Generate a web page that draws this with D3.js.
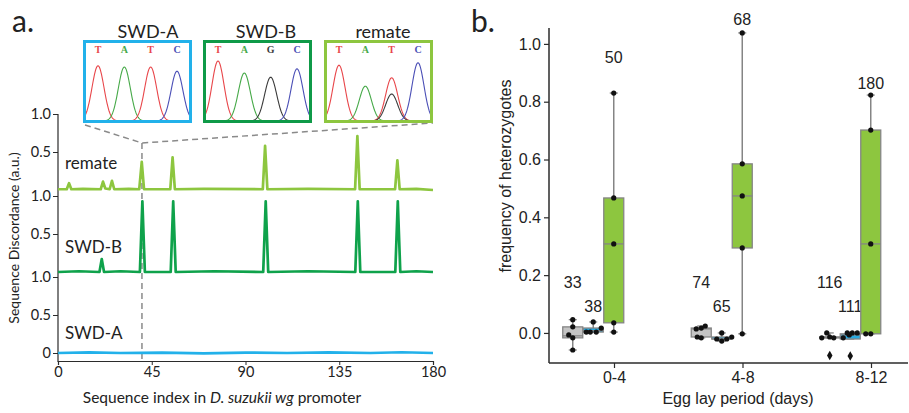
<!DOCTYPE html>
<html>
<head>
<meta charset="utf-8">
<script src="https://cdn.jsdelivr.net/npm/d3@7"></script>
<style>
  body { margin: 0; background: #fff; }
  svg { display: block; }
</style>
</head>
<body>
<svg id="chart" width="909" height="413"></svg>
<script>
// -------------------------------
// Panel a data: discordance traces ([sequence index, value])
// -------------------------------
const traceNames = ["remate", "SWD-B", "SWD-A"];
const traceColors = ["#8dc63f", "#0fa24b", "#22b1ea"];

const remateTrace = [
  [0, 0.01], [4.2, 0.01], [5.3, 0.09], [6.4, 0.01], [12, 0.015], [20.5, 0.01], [21.6, 0.11],
  [22.7, 0.02], [24.8, 0.01], [25.9, 0.12], [27, 0.01], [34, 0.015], [39, 0.01], [40.2, 0.37],
  [41.3, 0.01], [53.9, 0.01], [55.0, 0.43], [56.1, 0.01], [70, 0.015], [98.3, 0.01],
  [99.4, 0.58], [100.5, 0.01], [120, 0.015], [142.6, 0.01], [143.7, 0.71], [144.8, 0.01],
  [161.8, 0.01], [162.9, 0.39], [164, 0.01], [172, 0.015], [180, 0.0]
];
const swdBTrace = [
  [0, 0.0], [10, 0.01], [19.9, 0.0], [21.0, 0.17], [22.1, 0.0], [30, 0.01], [39.3, 0.0],
  [40.5, 0.93], [41.7, 0.0], [54.1, 0.0], [55.3, 0.93], [56.5, 0.0], [75, 0.01], [98.5, 0.0],
  [99.7, 0.93], [100.9, 0.0], [120, 0.01], [142.7, 0.0], [143.9, 0.93], [145.1, 0.0],
  [161.9, 0.0], [163.1, 0.93], [164.3, 0.0], [172, 0.01], [180, 0.0]
];
const swdATrace = [
  [0, 0.0], [15, 0.008], [30, 0.0], [50, 0.006], [70, -0.004], [90, 0.006], [110, 0.0],
  [130, 0.007], [150, 0.0], [165, 0.01], [180, 0.0]
];
const seqTicks = [0, 45, 90, 135, 180];
const discordTicks = [[0.5, 1.0], [0.5, 1.0], [0, 0.5, 1.0]];

// chromatogram insets: [base letter, slot, relative height]
const insetNames = ["SWD-A", "SWD-B", "remate"];
const insetColors = ["#22b1ea", "#0f9a48", "#8dc63f"];
const insetLetters = [["T", "A", "T", "C"], ["T", "A", "G", "C"], ["T", "A", "T", "C"]];
const insetPeaks = [
  [["T", 0, 0.92], ["A", 1, 0.9], ["T", 2, 0.9], ["C", 3, 0.83]],
  [["T", 0, 1.0], ["A", 1, 0.8], ["G", 2, 0.73], ["C", 3, 0.87]],
  [["T", 0, 0.93], ["A", 1, 0.58], ["T", 2, 0.72], ["G", 2, 0.45], ["C", 3, 0.97]]
];
const baseColors = { T: "#e8464a", A: "#46a948", G: "#3a3a3a", C: "#4b4fb6" };

// -------------------------------
// Panel b data: frequency of heterozygotes
// -------------------------------
const periods = ["0-4", "4-8", "8-12"];
const seriesNames = ["grey", "blue", "green"];
const seriesFill = ["#c4c4c4", "#27aae1", "#8dc63f"];

// [q1, median, q3, whisker low, whisker high] per period
const greyBoxes = [[-0.017, -0.01, 0.021, -0.059, 0.046], [-0.014, 0.014, 0.017, -0.017, 0.024], [-0.017, -0.015, -0.014, -0.017, 0.0]];
const blueBoxes = [[0.003, 0.008, 0.017, 0.003, 0.038], [-0.021, -0.021, -0.014, -0.028, 0.0], [-0.021, -0.007, -0.003, -0.021, 0.0]];
const greenBoxes = [[0.035, 0.308, 0.467, 0.003, 0.83], [0.294, 0.474, 0.585, -0.003, 1.038], [-0.003, 0.308, 0.702, -0.003, 0.823]];

const greyPoints = [[0.046, 0.021, -0.007, -0.017, -0.059], [0.014, 0.017, 0.024, -0.014, -0.017], [0.0, -0.017, -0.014, -0.017]];
const bluePoints = [[0.038, 0.003, 0.003, 0.003, 0.017], [0.0, -0.021, -0.028, -0.021, -0.014], [-0.017, 0.0, 0.0, 0.0, -0.007]];
const greenPoints = [[0.83, 0.467, 0.308, 0.035, 0.003], [1.038, 0.585, 0.474, 0.294, -0.003], [0.823, 0.702, 0.308, -0.003, -0.003]];
// horizontal jitter of the points, px
const greyJitter = [[0, 0, -4, 0, 0], [-5, 0, 4, -4, 0], [-3, -8, 0, 4]];
const blueJitter = [[0, -7, -3, 3, 8], [0, -5, 0, 5, 10], [-7, -3, 2, 7, -1]];
const greenJitter = [[0, 0, 0, 0, 0], [0, 0, 0, 0, 0], [0, 0, 0, -5, 0]];
// outliers (diamonds): [period index, series index, value]
const outliers = [[2, 0, -0.078], [2, 1, -0.08]];

// sample sizes and the height of their labels
const counts = [[33, 38, 50], [74, 65, 68], [116, 111, 180]];
const countY = [[0.156, 0.073, 0.934], [0.156, 0.073, 1.066], [0.156, 0.073, 0.844]];
const freqTicks = [0, 0.2, 0.4, 0.6, 0.8, 1.0];

// -------------------------------
// Setup
// -------------------------------
const svg = d3.select("#chart");
const fontA = "Lato, 'Open Sans', sans-serif";
const fontB = "'Liberation Sans', Arial, sans-serif";
const axisColor = "#2b2b2b";

// ---------- Panel a ----------
const xA = d3.scaleLinear().domain([0, 180]).range([58, 433]);
const panelRanges = [[190, 114], [272, 196], [353, 277]];
const yA = panelRanges.map((r) => d3.scaleLinear().domain([0, 1]).range(r));
const traces = [remateTrace, swdBTrace, swdATrace];

svg.append("text").attr("x", 12).attr("y", 32)
  .attr("font-family", fontA).attr("font-size", 30).attr("fill", "#222").text("a.");

// y axes (one per stacked trace)
yA.forEach((y, i) => {
  const g = svg.append("g").attr("transform", "translate(58,0)")
    .call(d3.axisLeft(y).tickValues(discordTicks[i]).tickSize(5).tickPadding(2)
      .tickFormat((d) => (d === 0 ? "0" : d3.format(".1f")(d))));
  g.select(".domain").remove();
  g.selectAll(".tick line").attr("stroke", axisColor);
  g.selectAll(".tick text").attr("font-family", fontA).attr("font-size", 14.5).attr("fill", "#222");
});
svg.append("line").attr("x1", 58).attr("x2", 58).attr("y1", 114).attr("y2", 362)
  .attr("stroke", axisColor).attr("stroke-width", 1.2);

// x axis
const gxA = svg.append("g").attr("transform", "translate(0,361)")
  .call(d3.axisBottom(xA).tickValues(seqTicks).tickSize(4).tickPadding(2));
gxA.select(".domain").attr("stroke", axisColor).attr("stroke-width", 1.2);
gxA.selectAll(".tick line").attr("stroke", axisColor);
gxA.selectAll(".tick text").attr("font-family", fontA).attr("font-size", 14.5).attr("fill", "#222");

const xLab = svg.append("text").attr("x", 222).attr("y", 403).attr("text-anchor", "middle")
  .attr("font-family", fontA).attr("font-size", 15.5).attr("fill", "#222");
xLab.append("tspan").text("Sequence index in ");
xLab.append("tspan").attr("font-style", "italic").text("D. suzukii wg");
xLab.append("tspan").text(" promoter");

svg.append("text").attr("transform", "translate(19,238) rotate(-90)").attr("text-anchor", "middle")
  .attr("font-family", fontA).attr("font-size", 14).attr("fill", "#222")
  .text("Sequence Discordance (a.u.)");

// dashed guide lines
const guideX = xA(40.3);
svg.append("path")
  .attr("d", `M85,125 L${guideX},143 L433,123 M${guideX},143 L${guideX},361`)
  .attr("fill", "none").attr("stroke", "#8a8a8a").attr("stroke-width", 1.5)
  .attr("stroke-dasharray", "6,4");

// traces
traces.forEach((data, i) => {
  const line = d3.line().x((d) => xA(d[0])).y((d) => yA[i](d[1]));
  svg.append("path").datum(data).attr("d", line)
    .attr("fill", "none").attr("stroke", traceColors[i]).attr("stroke-width", 2.7)
    .attr("stroke-linejoin", "round");
});

// trace names
const nameY = [169, 253, 339];
traceNames.forEach((n, i) => {
  svg.append("text").attr("x", 65).attr("y", nameY[i])
    .attr("font-family", fontA).attr("font-size", 17).attr("fill", "#222").text(n);
});

// chromatogram insets
const insetX = [83, 203, 324];
const titleX = [148, 266, 383];
const insetW = 109, insetTop = 40, insetH = 83;
const peakY = d3.scaleLinear().domain([0, 1]).range([121, 61]);
insetNames.forEach((name, k) => {
  const x0 = insetX[k];
  const slotX = d3.scaleLinear().domain([0, 3]).range([x0 + 15, x0 + 94]);
  svg.append("text").attr("x", titleX[k]).attr("y", 38).attr("text-anchor", "middle")
    .attr("font-family", fontA).attr("font-size", 18).attr("fill", "#222").text(name);

  svg.append("clipPath").attr("id", "clip" + k).append("rect")
    .attr("x", x0 + 1).attr("y", insetTop).attr("width", insetW - 2).attr("height", insetH - 1);
  const g = svg.append("g").attr("clip-path", `url(#clip${k})`);
  insetPeaks[k].forEach(([b, slot, h]) => {
    const c = slotX(slot);
    const pts = d3.range(-24, 24.5, 0.5).map((dx) => [c + dx, peakY(h * Math.exp(-(dx * dx) / (2 * 6 * 6)))]);
    g.append("path").datum(pts).attr("d", d3.line())
      .attr("fill", "none").attr("stroke", baseColors[b]).attr("stroke-width", 1.1);
  });
  insetLetters[k].forEach((b, slot) => {
    svg.append("text").attr("x", slotX(slot)).attr("y", 53).attr("text-anchor", "middle")
      .attr("font-family", "'Liberation Serif', 'DejaVu Serif', serif").attr("font-weight", "bold")
      .attr("font-size", 10).attr("fill", baseColors[b]).text(b);
  });
  svg.append("rect").attr("x", x0 + 1.5).attr("y", insetTop + 1.5)
    .attr("width", insetW - 3).attr("height", insetH - 3)
    .attr("fill", "none").attr("stroke", insetColors[k]).attr("stroke-width", 3);
});

// ---------- Panel b ----------
const yB = d3.scaleLinear().domain([-0.104, 1.055]).range([363, 28]);
const xB = d3.scalePoint().domain(periods).range([614, 871]);
const xSub = d3.scaleBand().domain([...seriesNames, "pad"]).range([-51.5, 30.5]);
const boxW = xSub.bandwidth() - 0.5;

svg.append("text").attr("x", 471).attr("y", 32)
  .attr("font-family", fontA).attr("font-size", 30).attr("fill", "#222").text("b.");

const gyB = svg.append("g").attr("transform", "translate(549,0)")
  .call(d3.axisLeft(yB).tickValues(freqTicks).tickFormat(d3.format(".1f")).tickSize(5).tickPadding(3));
gyB.select(".domain").attr("d", "M0,28V363").attr("stroke", axisColor).attr("stroke-width", 1.5);
gyB.selectAll(".tick line").attr("stroke", axisColor).attr("stroke-width", 1.2);
gyB.selectAll(".tick text").attr("font-family", fontB).attr("font-size", 16).attr("fill", "#222");

const gxB = svg.append("g").attr("transform", "translate(0,363)")
  .call(d3.axisBottom(xB).tickSize(5).tickPadding(4));
gxB.select(".domain").attr("d", "M549,0H908").attr("stroke", axisColor).attr("stroke-width", 1.5);
gxB.selectAll(".tick line").attr("stroke", axisColor).attr("stroke-width", 1.2);
gxB.selectAll(".tick text").attr("font-family", fontB).attr("font-size", 16).attr("fill", "#222");

svg.append("text").attr("x", 738).attr("y", 404).attr("text-anchor", "middle")
  .attr("font-family", fontB).attr("font-size", 16).attr("fill", "#222").text("Egg lay period (days)");
svg.append("text").attr("transform", "translate(511,176) rotate(-90)").attr("text-anchor", "middle")
  .attr("font-family", fontB).attr("font-size", 16).attr("fill", "#222").text("frequency of heterozygotes");

const allBoxes = [greyBoxes, blueBoxes, greenBoxes];
const allPoints = [greyPoints, bluePoints, greenPoints];
const allJitter = [greyJitter, blueJitter, greenJitter];
const boxStroke = "#858585";

periods.forEach((p, pi) => {
  seriesNames.forEach((s, si) => {
    const cx = xB(p) + xSub(s) + xSub.bandwidth() / 2;
    const [q1, med, q3, lo, hi] = allBoxes[si][pi];
    const g = svg.append("g");
    // whiskers
    g.append("line").attr("x1", cx).attr("x2", cx).attr("y1", yB(lo)).attr("y2", yB(hi))
      .attr("stroke", boxStroke).attr("stroke-width", 1.5);
    [lo, hi].forEach((v) => {
      g.append("line").attr("x1", cx - 4).attr("x2", cx + 4).attr("y1", yB(v)).attr("y2", yB(v))
        .attr("stroke", boxStroke).attr("stroke-width", 1.3);
    });
    // box
    g.append("rect").attr("x", cx - boxW / 2).attr("y", yB(q3))
      .attr("width", boxW).attr("height", Math.max(yB(q1) - yB(q3), 1))
      .attr("fill", seriesFill[si]).attr("stroke", boxStroke).attr("stroke-width", 1.3);
    g.append("line").attr("x1", cx - boxW / 2).attr("x2", cx + boxW / 2)
      .attr("y1", yB(med)).attr("y2", yB(med)).attr("stroke", boxStroke).attr("stroke-width", 1.3);
    // points
    g.selectAll("circle").data(allPoints[si][pi]).join("circle")
      .attr("cx", (d, j) => cx + allJitter[si][pi][j]).attr("cy", (d) => yB(d))
      .attr("r", 2.6).attr("fill", "#111");
    // sample size
    svg.append("text").attr("x", cx).attr("y", yB(countY[pi][si])).attr("text-anchor", "middle")
      .attr("font-family", fontB).attr("font-size", 16).attr("fill", "#222").text(counts[pi][si]);
  });
});

svg.selectAll(".outlier").data(outliers).join("path").attr("class", "outlier")
  .attr("d", d3.symbol(d3.symbolDiamond, 26))
  .attr("transform", (d) => `translate(${xB(periods[d[0]]) + xSub(seriesNames[d[1]]) + xSub.bandwidth() / 2},${yB(d[2])})`)
  .attr("fill", "#111");
</script>
</body>
</html>
